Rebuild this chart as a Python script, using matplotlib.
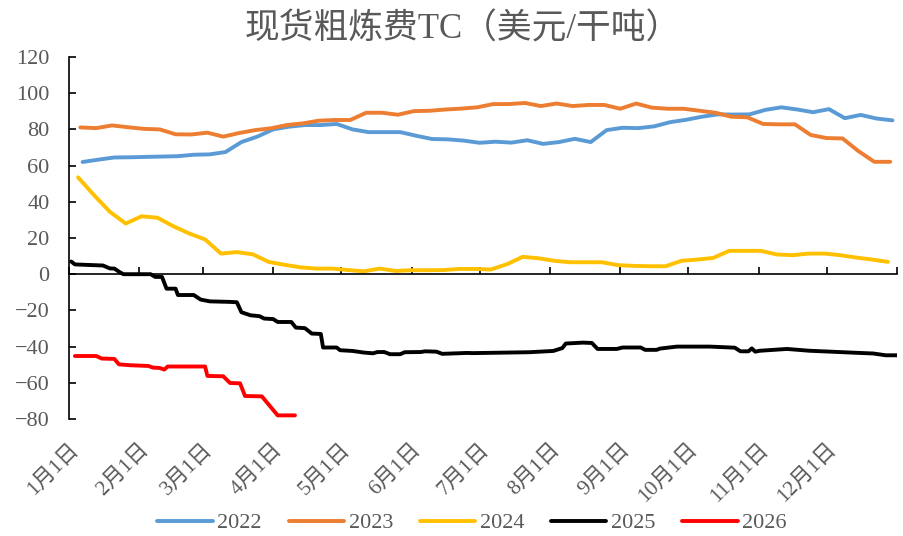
import matplotlib
matplotlib.use("Agg")
import matplotlib.pyplot as plt
import numpy as np
import pandas as pd

plt.rcParams['font.family'] = ['Liberation Serif', 'Noto Sans CJK SC', 'DejaVu Sans']
plt.rcParams['axes.unicode_minus'] = True

# ---------------- data ----------------
month_labels = ["1月1日", "2月1日", "3月1日", "4月1日", "5月1日", "6月1日",
                "7月1日", "8月1日", "9月1日", "10月1日", "11月1日", "12月1日"]
month_start_days = [0, 31, 59, 90, 120, 151, 181, 212, 243, 273, 304, 334]
year_end_day = 365

# weekly series (start date, weekly values)
start_2022 = "2022-01-07"
tc_2022 = [62, 63.3, 64.5, 64.6, 64.8, 65, 65.2, 66, 66.2, 67.5, 73, 76, 80, 81.5,
           82.4, 82.4, 83, 80, 78.5, 78.5, 78.5, 76.5, 74.7, 74.5, 73.8, 72.6, 73.2,
           72.7, 74, 72, 73, 74.8, 73, 79.6, 80.9, 80.7, 81.7, 84, 85.3, 87, 88.3,
           88.2, 88.3, 90.8, 92.2, 91, 89.5, 91.2, 86.2, 88, 86, 85]

start_2023 = "2023-01-06"
tc_2023 = [81.1, 80.7, 82.2, 81.2, 80.3, 80, 77.3, 77.2, 78.2, 76, 78, 79.6, 80.6,
           82.4, 83.3, 84.8, 85.2, 85.2, 89.2, 89.2, 88.1, 90.1, 90.3, 91, 91.5, 92.2,
           94, 94, 94.6, 92.9, 94.3, 92.9, 93.5, 93.5, 91.4, 94.3, 92, 91.4, 91.4,
           90.3, 89.2, 87, 86.7, 83, 82.8, 82.8, 76.9, 75.2, 75, 68, 62.1, 62.1]

start_2024 = "2024-01-05"
tc_2024 = [53.5, 43.7, 34.5, 28, 32, 31.2, 26.5, 22.5, 19.2, 11.4, 12.2, 11, 6.8,
           5.2, 3.8, 3.1, 3.1, 2.3, 1.6, 3.1, 1.8, 2.2, 2.2, 2.3, 2.9, 2.9, 2.6, 5.5,
           9.6, 8.8, 7.4, 6.6, 6.6, 6.6, 5, 4.6, 4.4, 4.4, 7.4, 8.1, 9, 12.9, 12.9,
           12.9, 10.9, 10.5, 11.4, 11.4, 10.5, 9.2, 8.1, 6.8]

# daily series (day of year, value)
days_2025 = [1, 2.6, 15, 18, 20, 22.5, 24, 36, 38, 41, 43, 47, 48, 55, 58, 62, 71, 74,
             76, 80, 84, 86, 90, 92, 98, 100, 104, 107, 111, 112, 118, 119.5, 125, 130,
             134, 136, 139, 141.5, 146, 148, 155, 157, 162, 164.5, 175.5, 178, 203,
             213.5, 217.5, 219, 226.5, 230.5, 233, 241.5, 244, 252, 254, 259, 260.5,
             268, 282.5, 293.5, 296, 299.5, 301, 302.5, 304.5, 316.5, 326.5, 348.5,
             354.5, 360, 365]
tc_2025 = [7.0, 5.4, 4.8, 3.2, 3.1, 1.0, 0, 0, -1.5, -1.5, -8, -8, -11.5, -11.5, -14,
           -15, -15.3, -15.5, -21, -22.7, -23.2, -24.5, -24.8, -26.4, -26.4, -29.5,
           -29.8, -32.8, -33, -40.5, -40.5, -42, -42.4, -43.3, -43.7, -43, -43, -44.2,
           -44.2, -43.1, -43, -42.6, -42.8, -44, -43.5, -43.6, -43.1, -42.4, -40.8,
           -38.3, -37.8, -38, -41.3, -41.3, -40.5, -40.5, -41.8, -41.8, -41.1, -40,
           -40, -40.6, -42.6, -42.6, -41, -42.8, -42.3, -41.3, -42.3, -43.5, -43.8,
           -44.8, -44.8]

days_2026 = [2.6, 12, 14.4, 20, 22, 27, 35, 37, 40, 42, 43.5, 60, 61, 68, 71, 75.4,
             77.6, 85, 92, 99.6]
tc_2026 = [-45.2, -45.2, -46.6, -46.8, -49.8, -50.3, -50.7, -51.6, -51.8, -52.7, -51,
           -51, -56.2, -56.4, -60.1, -60.3, -67.3, -67.5, -78, -78]

series_names = ["2022", "2023", "2024", "2025", "2026"]
series_colors = ["#5B9BD5", "#ED7D31", "#FFC000", "#000000", "#FF0000"]

title_text = "现货粗炼费TC（美元/干吨）"
text_color = "#595959"


def weekly_days(start, n):
    d = pd.date_range(start=start, periods=n, freq="7D")
    y0 = pd.Timestamp(year=d[0].year, month=1, day=1)
    return np.array([(x - y0).days for x in d], dtype=float)


# ---------------- figure ----------------
W, H = 904, 536
fig = plt.figure(figsize=(W / 100, H / 100), dpi=100)
ax = fig.add_axes([69 / W, 1 - 419 / H, 828 / W, (419 - 57) / H])

lw = 2.8
ax.plot(weekly_days(start_2022, len(tc_2022)), tc_2022, color=series_colors[0], lw=lw,
        label=series_names[0], solid_capstyle="round")
ax.plot(weekly_days(start_2023, len(tc_2023)), tc_2023, color=series_colors[1], lw=lw,
        label=series_names[1], solid_capstyle="round")
ax.plot(weekly_days(start_2024, len(tc_2024)), tc_2024, color=series_colors[2], lw=lw,
        label=series_names[2], solid_capstyle="round")
ax.plot(days_2025, tc_2025, color=series_colors[3], lw=lw, label=series_names[3],
        solid_capstyle="round")
ax.plot(days_2026, tc_2026, color=series_colors[4], lw=lw, label=series_names[4],
        solid_capstyle="round")

ax.set_xlim(0, year_end_day)
ax.set_ylim(-80, 120)
ax.set_yticks(np.arange(-80, 121, 20))

for s in ["top", "right"]:
    ax.spines[s].set_visible(False)
ax.spines["left"].set_color("black")
ax.spines["left"].set_linewidth(1.2)
ax.spines["bottom"].set_position(("data", 0))
ax.spines["bottom"].set_color("black")
ax.spines["bottom"].set_linewidth(1.2)

ax.set_xticks(month_start_days + [year_end_day])
ax.tick_params(axis="x", direction="in", length=5, width=1.2, color="black",
               labelbottom=False)
ax.tick_params(axis="y", direction="in", length=5, width=1.2, color="black",
               labelsize=16, labelcolor=text_color, pad=14)

sec = ax.secondary_xaxis(0)
sec.set_xticks(month_start_days)
sec.set_xticklabels(month_labels)
sec.spines["bottom"].set_visible(False)
sec.tick_params(axis="x", length=0, pad=15, labelsize=15.5, labelcolor=text_color)
for lab in sec.get_xticklabels():
    lab.set_rotation(45)
    lab.set_ha("right")
    lab.set_rotation_mode("anchor")

fig.text(463 / W, 1 - 30 / H, title_text, ha="center", va="center", fontsize=25,
         color=text_color)

fig.legend(loc="center", bbox_to_anchor=(472 / W, 1 - 523 / H), ncol=5, frameon=False,
           fontsize=16, handlelength=2.5, handletextpad=0.2, columnspacing=1.2,
           labelcolor=text_color)

fig.savefig("out.png", dpi=100)
